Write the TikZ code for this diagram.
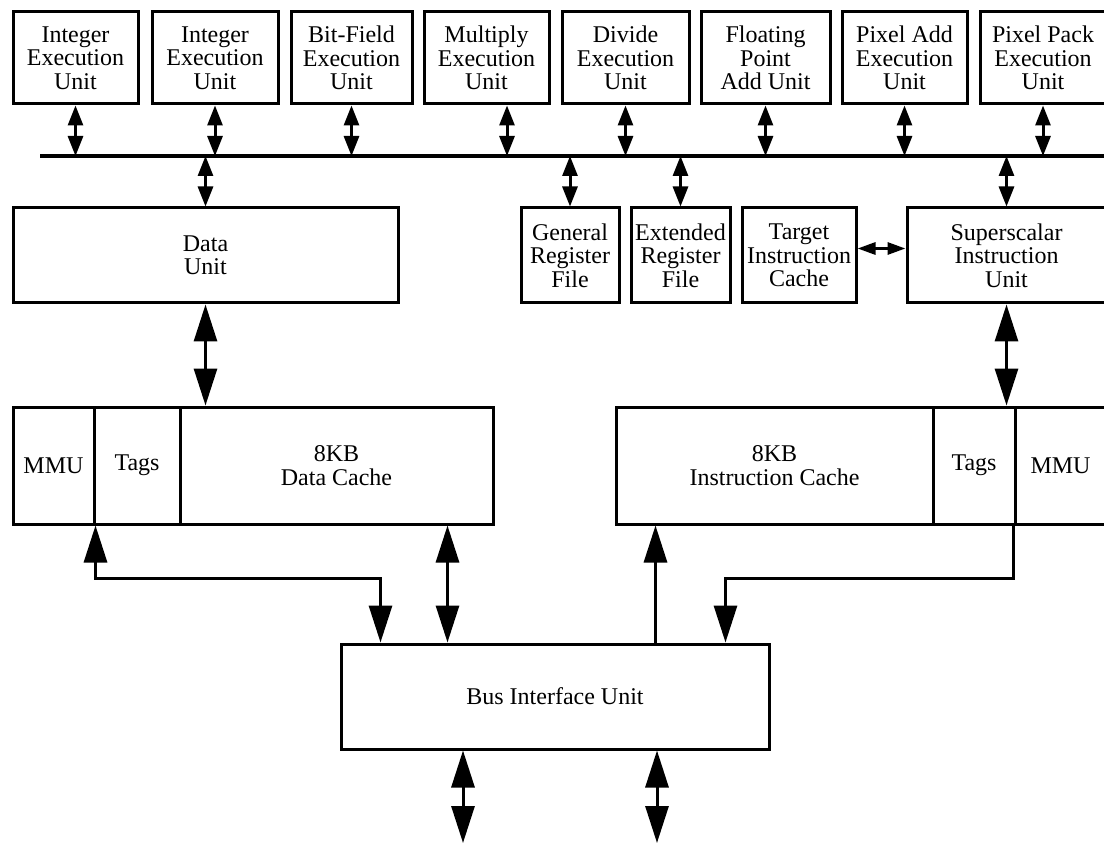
\documentclass[tikz,border=0pt]{standalone}
\usepackage{fontspec}
\setmainfont{Liberation Serif}
\usetikzlibrary{arrows.meta,calc}

\begin{document}
\begin{tikzpicture}[x=1pt,y=-1pt,
  box/.style={draw, line width=3pt, inner sep=0pt, align=center,
    font=\fontsize{24}{23.5}\selectfont},
  topbox/.style={box, minimum height=92pt},
  midbox/.style={box, minimum height=95pt},
  cell/.style={box, minimum height=117pt},
  lnk/.style={line width=3pt},
  smallboth/.style={lnk, {Triangle[length=20pt,width=15pt]}-{Triangle[length=20pt,width=15pt]}},
  sideboth/.style={lnk, {Triangle[length=18pt,width=12pt]}-{Triangle[length=18pt,width=12pt]}},
  bigboth/.style={lnk, {Triangle[length=37pt,width=23pt]}-{Triangle[length=37pt,width=23pt]}},
  bigto/.style={lnk, -{Triangle[length=37pt,width=23pt]}},
]
\fill[white] (0,0) rectangle (1104,853);
\useasboundingbox (0,0) rectangle (1104,853);

% execution units
\node[topbox, minimum width=125pt] (ieu1) at (75.5,58)  {Integer\\Execution\\Unit};
\node[topbox, minimum width=126pt] (ieu2) at (215,58)   {Integer\\Execution\\Unit};
\node[topbox, minimum width=121pt] (bfu)  at (351.5,58) {Bit-Field\\Execution\\Unit};
\node[topbox, minimum width=125pt] (mul)  at (486.5,58) {Multiply\\Execution\\Unit};
\node[topbox, minimum width=127pt] (dvu)  at (625.5,58) {Divide\\Execution\\Unit};
\node[topbox, minimum width=129pt] (fpa)  at (765.5,58) {Floating\\Point\\Add Unit};
\node[topbox, minimum width=125pt] (pxa)  at (904.5,58) {Pixel Add\\Execution\\Unit};
\node[topbox, minimum width=126pt] (pxp)  at (1043,58)  {Pixel Pack\\Execution\\Unit};

% internal bus
\coordinate (busL) at (40,156);
\coordinate (busR) at (1106,156);
\draw[line width=4.5pt] (busL) -- (busR);

\foreach \u in {ieu1,ieu2,bfu,dvu,fpa,pxa,pxp}
  \draw[smallboth] (\u.south) -- (\u.south |- busL);
\coordinate (mularr) at ($(mul.south)+(20.5,0)$);
\draw[smallboth] (mularr) -- (mularr |- busL);

% second row
\node[midbox, minimum width=385pt] (du)  at (205.5,255.5) {Data\\Unit};
\node[midbox, minimum width=98pt]  (grf) at (570,255.5)   {General\\Register\\File};
\node[midbox, minimum width=99pt]  (erf) at (680.5,255.5) {Extended\\Register\\File};
\node[midbox, minimum width=114pt] (tic) at (799,255.5)   {Target\\Instruction\\Cache};
\node[midbox, minimum width=199pt] (siu) at (1006.5,255.5){Superscalar\\Instruction\\Unit};

\foreach \u in {du,grf,erf,siu}
  \draw[smallboth] (\u.north |- busL) -- (\u.north);
\draw[sideboth] ([yshift=7pt]tic.east) -- ([yshift=7pt]siu.west);

% caches
\node[cell, minimum width=81pt]  (dmmu)   at (53.5,465.5)  {MMU};
\node[cell, minimum width=86pt]  (dtags)  at (137,465.5)   {Tags};
\node[cell, minimum width=313pt] (dcache) at (336.5,465.5) {8KB\\Data Cache};
\node[cell, minimum width=317pt] (icache) at (774.5,465.5) {8KB\\Instruction Cache};
\node[cell, minimum width=82pt]  (itags)  at (974,465.5)   {Tags};
\node[cell, minimum width=91pt]  (immu)   at (1060.5,465.5){MMU};

\draw[bigboth] (du.south) -- (du.south |- dcache.north);
\draw[bigboth] (siu.south) -- (siu.south |- icache.north);

% bus interface unit
\node[box, minimum width=428pt, minimum height=105pt] (biu) at (555,696.5) {Bus Interface Unit};

\coordinate (b0) at ($(biu.north west)+(41,0)$);
\coordinate (b1) at ($(biu.north west)+(108,0)$);
\coordinate (b2) at ($(biu.north west)+(316,0)$);
\coordinate (b3) at ($(biu.north west)+(386,0)$);

\draw[bigboth] (dmmu.south east) -- ++(0,53) -| (b0);
\draw[bigboth] (dcache.south -| b1) -- (b1);
\draw[bigto] (b2) -- (b2 |- icache.south);
\draw[bigto] (immu.south west) -- ++(0,53) -| (b3);

% external bus
\coordinate (o1) at (463,843);
\coordinate (o2) at (657,843);
\draw[bigboth] (biu.south -| o1) -- (o1);
\draw[bigboth] (biu.south -| o2) -- (o2);
\end{tikzpicture}
\end{document}
